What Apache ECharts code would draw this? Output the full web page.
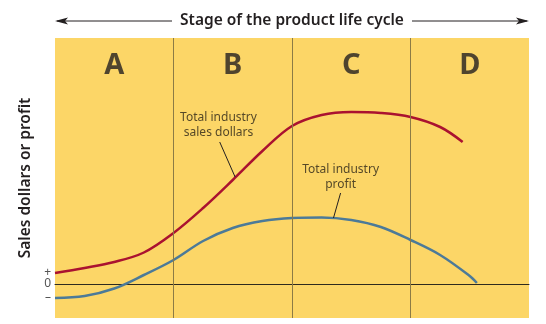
<!DOCTYPE html>
<html><head><meta charset="utf-8">
<script src="https://cdn.jsdelivr.net/npm/echarts@6/dist/echarts.min.js"></script>
<style>html,body{margin:0;padding:0;background:#fff}#c{width:546px;height:324px}</style>
</head><body><div id="c"></div>
<script>
// Data (x = position along the life cycle in stage units, y = relative amount; 0 = break-even)
const stageLetters = ['A', 'B', 'C', 'D'];
const stageCenters = [0.5, 1.5, 2.5, 3.5];
const stageBounds = [1, 2, 3];
const salesX = [0, 0.25, 0.5, 0.75, 1.0, 1.25, 1.5, 1.75, 2.0, 2.25, 2.5, 2.75, 3.0, 3.25, 3.44];
const salesY = [11, 16, 22, 31.5, 51, 76, 104, 133, 158, 169, 172, 171, 167, 157, 142];
const profitX = [0, 0.25, 0.5, 0.75, 1.0, 1.25, 1.5, 1.75, 2.0, 2.25, 2.5, 2.75, 3.0, 3.25, 3.5, 3.56];
const profitY = [-14, -12, -4.5, 9, 24, 43, 56, 63, 66, 66.5, 64, 57, 44, 29, 8, 1];
const yTickValues = [-14, 0, 11];
const yTickLabels = ['\u2013', '0', '+'];
const salesLabel = 'Total industry\nsales dollars';
const profitLabel = 'Total industry\nprofit';
const salesLabelPos = [1.38, 158.5];
const salesLeader = [[1.39, 142], [1.52, 107]];
const profitLabelPos = [2.41, 107];
const profitLeader = [[2.41, 91], [2.35, 66]];
const topTitle = 'Stage of the product life cycle';
const yTitle = 'Sales dollars or profit';

const zip = (xs, ys) => xs.map((x, i) => [x, ys[i]]);
const FONT = '"Noto Sans", "Open Sans", sans-serif';
const INK = '#231f20';
const Y_MIN = -34, Y_MAX = 246;
const tickLabel = v => yTickLabels[yTickValues.indexOf(v)] ?? '';
const labelBase = {margin: 4, fontSize: 12, color: '#555', hideOverlap: false, showMinLabel: true, showMaxLabel: true, formatter: tickLabel};

const chart = echarts.init(document.getElementById('c'), null, {renderer: 'canvas'});
chart.setOption({
  animation: false,
  backgroundColor: '#ffffff',
  textStyle: {fontFamily: FONT},
  grid: {left: 55, right: 17, top: 38, bottom: 6, show: true, backgroundColor: '#FCD667', borderWidth: 0},
  xAxis: {
    type: 'value', min: 0, max: 4, interval: 1,
    axisLine: {show: true, onZero: true, lineStyle: {color: '#2e2a1e', width: 1}},
    axisTick: {show: false}, axisLabel: {show: false}, splitLine: {show: false}
  },
  yAxis: [
    {
      type: 'value', min: Y_MIN, max: Y_MAX, position: 'left',
      name: yTitle, nameLocation: 'middle', nameRotate: 90, nameGap: 20,
      nameTextStyle: {fontFamily: FONT, fontSize: 15.5, fontWeight: 600, color: INK},
      axisLine: {show: false}, axisTick: {show: false}, splitLine: {show: false},
      axisLabel: Object.assign({customValues: yTickValues.filter(v => v <= 0)}, labelBase)
    },
    {
      type: 'value', min: Y_MIN, max: Y_MAX, position: 'left', offset: 0,
      axisLine: {show: false}, axisTick: {show: false}, splitLine: {show: false},
      axisLabel: Object.assign({customValues: yTickValues.filter(v => v > 0)}, labelBase)
    }
  ],
  graphic: [
    {type: 'text', x: 292, y: 21, style: {text: topTitle, fontFamily: FONT, fontSize: 15.5, fontWeight: 600, fill: INK, align: 'center', verticalAlign: 'middle'}},
    {type: 'line', shape: {x1: 57, y1: 21, x2: 172, y2: 21}, style: {stroke: INK, lineWidth: 1}},
    {type: 'line', shape: {x1: 412, y1: 21, x2: 527, y2: 21}, style: {stroke: INK, lineWidth: 1}},
    {type: 'polygon', shape: {points: [[55, 21], [68, 17.5], [65, 21], [68, 24.5]]}, style: {fill: INK}},
    {type: 'polygon', shape: {points: [[529, 21], [516, 17.5], [519, 21], [516, 24.5]]}, style: {fill: INK}}
  ],
  series: [
    {
      name: 'Stage boundaries', type: 'line', data: [], silent: true,
      markLine: {
        symbol: 'none', silent: true, label: {show: false},
        lineStyle: {type: 'solid', color: '#8c7b45', width: 1},
        data: stageBounds.map(b => ({xAxis: b}))
      }
    },
    {
      name: 'Total industry sales dollars', type: 'line', data: zip(salesX, salesY),
      smooth: 0.35, showSymbol: false, lineStyle: {color: '#AA1230', width: 2.5}, z: 3
    },
    {
      name: 'Total industry profit', type: 'line', data: zip(profitX, profitY),
      smooth: 0.35, showSymbol: false, lineStyle: {color: '#4C7A98', width: 2.5}, z: 3,
      markLine: {
        symbol: 'none', silent: true, label: {show: false},
        lineStyle: {type: 'solid', color: INK, width: 1},
        data: [
          [{coord: salesLeader[0]}, {coord: salesLeader[1]}],
          [{coord: profitLeader[0]}, {coord: profitLeader[1]}]
        ]
      }
    },
    {
      name: 'Stage letters', type: 'scatter', symbolSize: 0, silent: true,
      data: stageCenters.map((x, i) => ({value: [x, 218], name: stageLetters[i]})),
      label: {show: true, position: 'inside', formatter: p => p.name, fontFamily: FONT, fontSize: 29, fontWeight: 700, color: INK}
    },
    {
      name: 'Curve labels', type: 'scatter', symbolSize: 0, silent: true,
      data: [
        {value: salesLabelPos, name: salesLabel},
        {value: profitLabelPos, name: profitLabel}
      ],
      label: {show: true, position: 'inside', formatter: p => p.name, fontFamily: FONT, fontSize: 12, lineHeight: 15, color: '#2a2418', align: 'center'}
    }
  ]
});
</script></body></html>
